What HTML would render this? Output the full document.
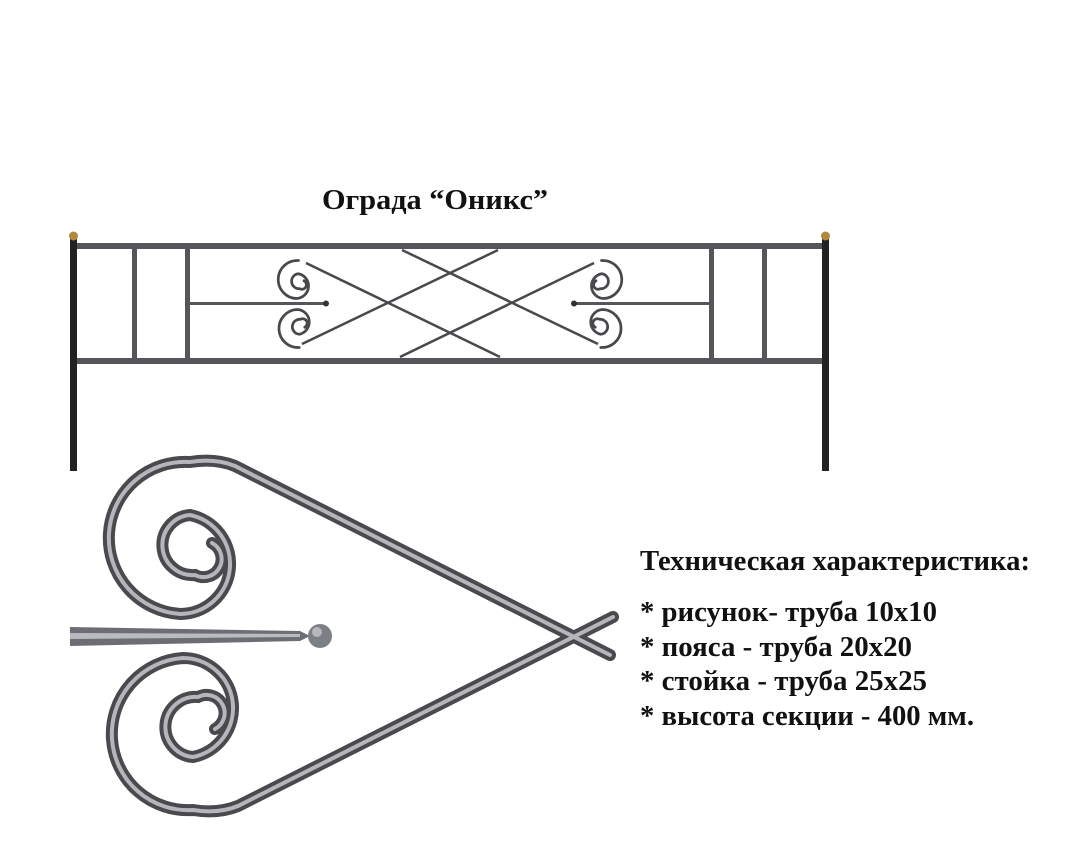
<!DOCTYPE html>
<html><head><meta charset="utf-8"><style>
html,body{margin:0;padding:0;background:#fff;}
svg{display:block;}
text{font-family:"Liberation Serif","Noto Serif CJK SC",serif;font-weight:bold;fill:#111;}
</style></head><body>
<svg width="1077" height="862" viewBox="0 0 1077 862" xmlns="http://www.w3.org/2000/svg">
<defs>
<g id="spiral">
  <path d="M610 655 L235 466 Q215 458 190 462 A76 76 0 0 0 180 614 A50 50 0 0 0 190 515 A30 30 0 0 0 195 575 A16 16 0 0 0 212 543" fill="none"/>
</g>
<g id="heart">
  <g stroke="#4a4a4e" stroke-width="12" fill="none" stroke-linecap="round">
    <use href="#spiral"/>
    <use href="#spiral" transform="translate(3,1272) scale(1,-1)"/>
  </g>
  <g stroke="#b4b6bc" stroke-width="4" fill="none" stroke-linecap="round">
    <use href="#spiral"/>
    <use href="#spiral" transform="translate(3,1272) scale(1,-1)"/>
  </g>
</g>
</defs>
<text x="435" y="209" font-size="28" text-anchor="middle" textLength="226" lengthAdjust="spacingAndGlyphs">Ограда “Оникс”</text>

<!-- fence -->
<g>
  <rect x="70" y="238" width="7" height="233" fill="#222"/>
  <rect x="822" y="238" width="7" height="233" fill="#222"/>
  <circle cx="73.5" cy="236" r="4.5" fill="#b08a3a"/>
  <circle cx="825.5" cy="236" r="4.5" fill="#b08a3a"/>
  <rect x="77" y="243" width="745" height="6" fill="#55565a"/>
  <rect x="77" y="358" width="745" height="6" fill="#55565a"/>
  <rect x="132" y="249" width="5" height="109" fill="#55565a"/>
  <rect x="185" y="249" width="5" height="109" fill="#55565a"/>
  <rect x="709" y="249" width="5" height="109" fill="#55565a"/>
  <rect x="762" y="249" width="5" height="109" fill="#55565a"/>
  <rect x="190" y="302" width="135" height="3" fill="#55565a"/>
  <rect x="575" y="302" width="135" height="3" fill="#55565a"/>
  <circle cx="326" cy="303.5" r="3" fill="#333"/>
  <circle cx="574" cy="303.5" r="3" fill="#333"/>
  <g stroke="#48494d" stroke-width="2.5" fill="none">
    <line x1="306" y1="263" x2="500" y2="357"/>
    <line x1="302" y1="344" x2="498" y2="250"/>
    <line x1="594" y1="263" x2="400" y2="357"/>
    <line x1="598" y1="344" x2="402" y2="250"/>
  </g>
  <g transform="translate(251,145) scale(0.25)" stroke="#48494d" stroke-width="11" fill="none" stroke-linecap="round">
    <path d="M190 462 A76 76 0 0 0 180 614 A50 50 0 0 0 190 515 A30 30 0 0 0 195 575 A16 16 0 0 0 212 543"/>
    <path d="M190 462 A76 76 0 0 0 180 614 A50 50 0 0 0 190 515 A30 30 0 0 0 195 575 A16 16 0 0 0 212 543" transform="translate(3,1272) scale(1,-1)"/>
  </g>
  <g transform="translate(900,0) scale(-1,1)">
  <g transform="translate(251,145) scale(0.25)" stroke="#48494d" stroke-width="11" fill="none" stroke-linecap="round">
    <path d="M190 462 A76 76 0 0 0 180 614 A50 50 0 0 0 190 515 A30 30 0 0 0 195 575 A16 16 0 0 0 212 543"/>
    <path d="M190 462 A76 76 0 0 0 180 614 A50 50 0 0 0 190 515 A30 30 0 0 0 195 575 A16 16 0 0 0 212 543" transform="translate(3,1272) scale(1,-1)"/>
  </g>
  </g>
</g>

<!-- detail -->
<path d="M70 627 L300 631 L310 636 L300 641 L70 646 Z" fill="#6d6e74"/>
<path d="M70 633 L300 634 L300 637 L70 639 Z" fill="#b9bbc1"/>
<circle cx="320" cy="636" r="12" fill="#7d7f86"/>
<circle cx="317" cy="632" r="5" fill="#b5b7bd"/>
<use href="#heart"/>

<text x="640" y="570" font-size="28" textLength="390" lengthAdjust="spacingAndGlyphs">Техническая характеристика:</text>
<text x="640" y="621" font-size="28" textLength="297" lengthAdjust="spacingAndGlyphs">* рисунок- труба 10x10</text>
<text x="640" y="656" font-size="28" textLength="272" lengthAdjust="spacingAndGlyphs">* пояса - труба 20x20</text>
<text x="640" y="690" font-size="28" textLength="287" lengthAdjust="spacingAndGlyphs">* стойка - труба 25x25</text>
<text x="640" y="725" font-size="28" textLength="334" lengthAdjust="spacingAndGlyphs">* высота секции - 400 мм.</text>
</svg>
</body></html>
